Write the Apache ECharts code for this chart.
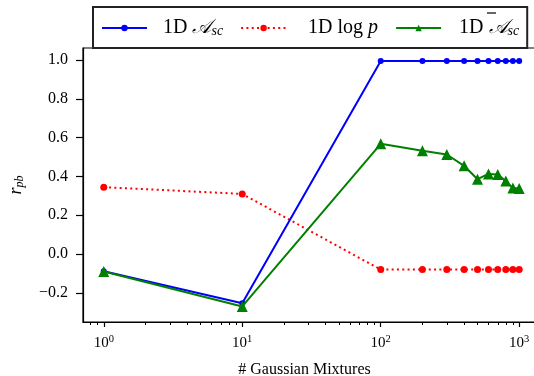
<!DOCTYPE html>
<html><head><meta charset="utf-8">
<script src="https://cdn.jsdelivr.net/npm/echarts@6/dist/echarts.min.js"></script>
<style>html,body{margin:0;padding:0;background:#fff}#c{width:534px;height:376px}</style>
</head><body><div id="c"></div>
<script>
// ---- data ----
const mixtures = [1, 10, 100, 200, 300, 400, 500, 600, 700, 800, 900, 1000];
const ascValues = [-0.088, -0.253, 0.995, 0.995, 0.995, 0.995, 0.995, 0.995, 0.995, 0.995, 0.995, 0.995];
const logpValues = [0.345, 0.31, -0.08, -0.08, -0.08, -0.08, -0.08, -0.08, -0.08, -0.08, -0.08, -0.08];
const ascBarValues = [-0.09, -0.27, 0.568, 0.532, 0.513, 0.455, 0.386, 0.413, 0.41, 0.376, 0.34, 0.338];
const xMajorTicks = [1, 10, 100, 1000];
const xMinorTicks = [0.8, 0.9, 2, 3, 4, 5, 6, 7, 8, 9, 20, 30, 40, 50, 60, 70, 80, 90, 200, 300, 400, 500, 600, 700, 800, 900];
const yTicks = [-0.2, 0, 0.2, 0.4, 0.6, 0.8, 1.0];
const seriesNames = ['1D Asc', '1D log p', '1D Abar_sc'];

const SERIF = '"Liberation Serif", "DejaVu Serif", serif';
const pair = arr => mixtures.map((x, i) => [x, arr[i]]);
const chart = echarts.init(document.getElementById('c'), null, {renderer: 'canvas'});
const legendText = {
  '1D Asc': '1D {s|𝒜}{sub|sc}',
  '1D log p': '1D log {i|p}',
  '1D Abar_sc': '1D {s|𝒜}{sub|sc}'
};
chart.setOption({
  backgroundColor: '#fff',
  animation: false,
  grid: {left: 83, top: 48, width: 457, height: 274, outerBoundsMode: 'none', containLabel: false,
         show: true, borderColor: '#000', borderWidth: 1.2, backgroundColor: 'transparent'},
  legend: {
    data: [
      {name: seriesNames[0]},
      {name: seriesNames[1], textStyle: {padding: [0, 0, 0, 17]}},
      {name: seriesNames[2], textStyle: {padding: [0, 0, 0, 13]}}
    ],
    left: 93, top: 7,
    padding: [11, 8, 10, 8],
    itemWidth: 45, itemHeight: 8, itemGap: 17,
    backgroundColor: '#fff', borderColor: '#222', borderWidth: 2, borderRadius: 0,
    formatter: n => legendText[n],
    textStyle: {
      fontFamily: SERIF, fontSize: 20, color: '#000', padding: [0, 0, 0, 11],
      rich: {
        s: {fontFamily: SERIF, fontSize: 20, fontStyle: 'italic', color: '#000'},
        sub: {fontFamily: SERIF, fontSize: 14, fontStyle: 'italic', color: '#000', verticalAlign: 'bottom', lineHeight: 18, padding: [6, 0, 0, 0]},
        i: {fontFamily: SERIF, fontSize: 20, fontStyle: 'italic', color: '#000'}
      }
    }
  },
  graphic: [{
    // overbar of the third legend label (text decoration)
    type: 'line', shape: {x1: 487, y1: 13, x2: 496, y2: 13},
    style: {stroke: '#000', lineWidth: 1.2}, z: 200
  }],
  xAxis: [{
    type: 'log', logBase: 10, min: 0.708, max: 1413,
    position: 'bottom',
    name: '# Gaussian Mixtures', nameLocation: 'middle', nameGap: 40,
    nameTextStyle: {fontFamily: SERIF, fontSize: 16, color: '#000', padding: [0, 14, 0, 0]},
    axisLine: {show: true, onZero: false, lineStyle: {color: '#000', width: 1.2}},
    axisTick: {show: true, customValues: xMajorTicks, length: 5, lineStyle: {color: '#000', width: 1.2}},
    axisLabel: {
      customValues: xMajorTicks, margin: 12, color: '#000', fontFamily: SERIF, fontSize: 15,
      formatter: v => '10{sup|' + Math.round(Math.log10(v)) + '}',
      rich: {sup: {fontFamily: SERIF, fontSize: 10.5, color: '#000', verticalAlign: 'top', padding: [0, 0, 7, 0]}}
    },
    splitLine: {show: false}
  }, {
    type: 'log', logBase: 10, min: 0.708, max: 1413,
    position: 'bottom', offset: 0,
    axisLine: {show: false, onZero: false},
    axisTick: {show: true, customValues: xMinorTicks, length: 3, lineStyle: {color: '#000', width: 1}},
    axisLabel: {show: false},
    splitLine: {show: false}
  }],
  yAxis: {
    type: 'value', min: -0.35, max: 1.062,
    name: '{r|r}{sub|pb}', nameLocation: 'middle', nameGap: 57, nameRotate: 90,
    nameTextStyle: {
      rich: {
        r: {fontFamily: SERIF, fontSize: 18, fontStyle: 'italic', color: '#000'},
        sub: {fontFamily: SERIF, fontSize: 12, fontStyle: 'italic', color: '#000', padding: [7, 0, 0, 0]}
      }
    },
    axisLine: {show: true, onZero: false, lineStyle: {color: '#000', width: 1.2}},
    axisTick: {show: true, customValues: yTicks, length: 7, lineStyle: {color: '#000', width: 1.2}},
    axisLabel: {
      customValues: yTicks, margin: 15, color: '#000', fontFamily: SERIF, fontSize: 16,
      formatter: v => (v < 0 ? '\u2212' : '') + Math.abs(v).toFixed(1)
    },
    splitLine: {show: false}
  },
  series: [{
    name: seriesNames[0], type: 'line', data: pair(ascValues),
    symbol: 'circle', symbolSize: 6,
    lineStyle: {color: '#0000ff', width: 2}, itemStyle: {color: '#0000ff'}, z: 3
  }, {
    name: seriesNames[1], type: 'line', data: pair(logpValues),
    symbol: 'circle', symbolSize: 7,
    lineStyle: {color: '#ff0000', width: 2, type: [2, 3.3]}, itemStyle: {color: '#ff0000'}, z: 2
  }, {
    name: seriesNames[2], type: 'line', data: pair(ascBarValues),
    symbol: 'triangle', symbolSize: 11,
    lineStyle: {color: '#008000', width: 2}, itemStyle: {color: '#008000'}, z: 4
  }]
});
</script></body></html>
